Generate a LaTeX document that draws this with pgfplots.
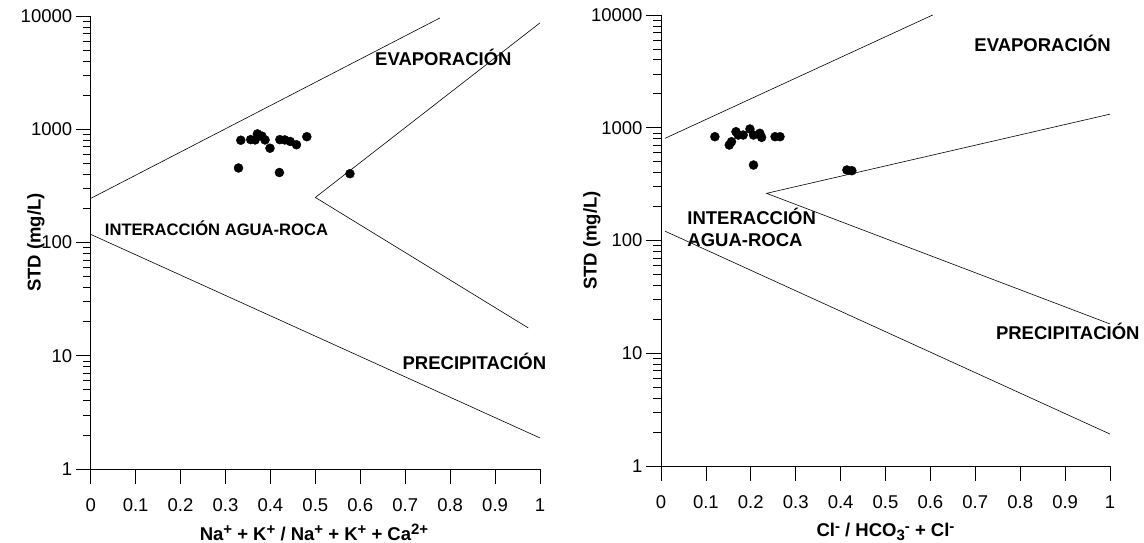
\documentclass[border=0pt]{standalone}
\usepackage{fontspec}
\setmainfont{Liberation Sans}
\usepackage{pgfplots}
\pgfplotsset{compat=1.18}
\pgfplotsset{every axis/.append style={
  scale only axis, anchor=south west,
  axis lines=left, axis line style={-, line width=0.8bp},
  xmin=0,xmax=1,ymin=1,ymax=10000,
  xtick={0,0.1,0.2,0.3,0.4,0.5,0.6,0.7,0.8,0.9,1},
  xticklabels={0,0.1,0.2,0.3,0.4,0.5,0.6,0.7,0.8,0.9,1},
  ytick={1,10,100,1000,10000}, yticklabels={1,10,100,1000,10000},
  tick align=outside,
  major tick length=15bp, minor tick length=8bp,
  every tick/.append style={black, line width=0.8bp},
  tick label style={font=\fontsize{18.5bp}{22bp}\selectfont},
  xticklabel style={yshift=-11bp},
  label style={font=\bfseries\fontsize{18.5bp}{22bp}\selectfont},
  clip=false,
}}
\tikzset{
 mypts/.style={only marks, mark=*, mark size=4.5bp, black},
 myln/.style={black, line width=0.6bp, mark=none},
}
\newcommand{\lab}{\bfseries\fontsize{18.5bp}{22bp}\selectfont}
\newcommand{\sps}[1]{\raisebox{0.55ex}{\fontsize{15bp}{15bp}\selectfont #1}}
\newcommand{\sbs}[1]{\raisebox{-0.35ex}{\fontsize{15bp}{15bp}\selectfont #1}}
\begin{document}
\begin{tikzpicture}[x=1bp,y=1bp]
\useasboundingbox (0,0) rectangle (1144,-543);
% ---------- left panel ----------
\begin{semilogyaxis}[at={(90.7bp,-469bp)}, width=449.3bp, height=453bp,
  xlabel={Na\sps{+} + K\sps{+} / Na\sps{+} + K\sps{+} + Ca\sps{2+}},
  ylabel={STD (mg/L)},
  xlabel style={at={(axis description cs:0.497,-0.14)}, anchor=center},
  ylabel style={at={(axis description cs:-0.122,0.5)}, anchor=center}]
\addplot[myln] coordinates {(0,245) (0.777,9600)};
\addplot[myln] coordinates {(1,8700) (0.5,250) (0.974,17.6)};
\addplot[myln] coordinates {(0,118) (1,1.88)};
\addplot[mypts] coordinates {
(0.334,800) (0.329,455) (0.356,810) (0.371,910) (0.381,870) (0.366,805)
(0.388,805) (0.399,680) (0.420,415) (0.421,810) (0.432,805) (0.444,780)
(0.458,730) (0.481,860) (0.577,405)};
\node[font=\lab] at (axis cs:0.785,4350) {EVAPORACIÓN};
\node[font=\bfseries\fontsize{16.6bp}{20bp}\selectfont] at (axis cs:0.28,134) {INTERACCIÓN AGUA-ROCA};
\node[font=\lab] at (axis cs:0.854,9.0) {PRECIPITACIÓN};
\end{semilogyaxis}
% ---------- right panel ----------
\begin{semilogyaxis}[at={(661bp,-466bp)}, width=449bp, height=451bp,
  xlabel={Cl\sps{-} / HCO\sbs{3}\sps{-} + Cl\sps{-}},
  ylabel={STD (mg/L)},
  xlabel style={at={(axis description cs:0.5,-0.146)}, anchor=center},
  ylabel style={at={(axis description cs:-0.154,0.5)}, anchor=center}]
\addplot[myln] coordinates {(0.009,806) (0.605,10000)};
\addplot[myln] coordinates {(1,1320) (0.235,262) (1,18.2)};
\addplot[myln] coordinates {(0.009,121) (1,1.92)};
\addplot[mypts] coordinates {
(0.120,833) (0.152,703) (0.157,752) (0.167,922) (0.172,862) (0.183,862)
(0.198,975) (0.206,862) (0.220,893) (0.224,822) (0.254,833) (0.265,833)
(0.206,467) (0.414,422) (0.425,416)};
\node[font=\lab] at (axis cs:0.85,5640) {EVAPORACIÓN};
\node[font=\lab, anchor=west, align=left] at (axis cs:0.051,132) {INTERACCIÓN\\AGUA-ROCA};
\node[font=\lab] at (axis cs:0.906,15.7) {PRECIPITACIÓN};
\end{semilogyaxis}
\end{tikzpicture}
\end{document}
